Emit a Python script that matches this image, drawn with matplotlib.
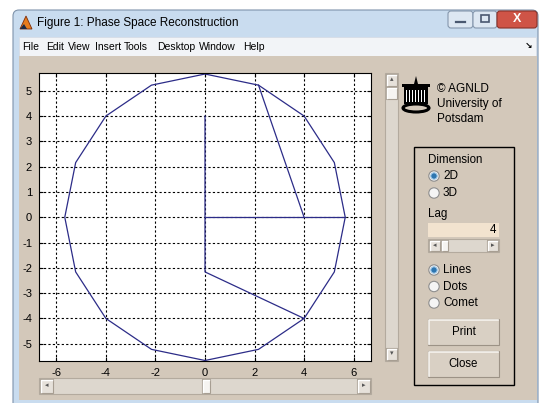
import numpy as np
import matplotlib.pyplot as plt
from matplotlib.patches import Rectangle, Circle, FancyBboxPatch, Ellipse, Polygon

plt.rcParams['font.family'] = ['Liberation Sans', 'DejaVu Sans']
plt.rcParams['axes.unicode_minus'] = False

## trajectory in the reconstructed phase space (x(t), x(t+lag))
path_x = [0, 0, 4, 2.16, 0, -2.16, -4, -5.22, -5.66, -5.22, -4, -2.16, 0, 2.16, 4, 5.22, 5.66, 5.22, 4]
path_y = [4, -2.16, -4, -5.22, -5.66, -5.22, -4, -2.16, 0, 2.16, 4, 5.22, 5.66, 5.22, 4, 2.16, 0, -2.16, -4]
seg_a_x = [0, 5.66]
seg_a_y = [0, 0]
seg_b_x = [4, 2.16]
seg_b_y = [0, 5.22]

x_ticks = [-6, -4, -2, 0, 2, 4, 6]
y_ticks = [-5, -4, -3, -2, -1, 0, 1, 2, 3, 4, 5]

title = 'Figure 1: Phase Space Reconstruction'
menu_items = ['File', 'Edit', 'View', 'Insert', 'Tools', 'Desktop', 'Window', 'Help']
menu_pos = [22, 46, 68, 95, 124, 157, 199, 243]
logo_lines = ['\u00a9 AGNLD', 'University of', 'Potsdam']
dim_options = ['2D', '3D']
style_options = ['Lines', 'Dots', 'Comet']
lag_value = '4'

FACE = '#d3c8ba'
FRAME = '#c9dcef'
LINE = '#2c2c88'

fig = plt.figure(figsize=(5.42, 4.03), dpi=100)
fig.patch.set_facecolor('white')

## window chrome drawn in pixel units
bg = fig.add_axes([0, 0, 1, 1], zorder=0)
bg.set_xlim(0, 542)
bg.set_ylim(403, 0)
bg.axis('off')


def box(x0, y0, x1, y1, fc, ec='none', lw=0.8, z=1):
    bg.add_patch(Rectangle((x0, y0), x1 - x0, y1 - y0, fc=fc, ec=ec, lw=lw, zorder=z))


def raised(x0, y0, x1, y1, fc='#e6e1da'):
    box(x0, y0, x1, y1, fc, ec='#a79e92', lw=0.8, z=3)
    bg.plot([x0 + 1, x0 + 1, x1 - 1], [y1 - 1, y0 + 1, y0 + 1], color='white', lw=1, zorder=4)


def radio(cx, cy, on):
    bg.add_patch(Circle((cx, cy), 5.2, fc='#f4f4f4', ec='#8e8e8e', lw=0.8, zorder=3))
    if on:
        bg.add_patch(Circle((cx, cy), 3.2, fc='#2e76b0', ec='#9cc6e6', lw=0.8, zorder=4))


# outer frame + title bar
bg.add_patch(FancyBboxPatch((13, 10), 525, 400, boxstyle='round,pad=0,rounding_size=6',
                            fc=FRAME, ec='#7f93ab', lw=0.8, zorder=1))
bg.text(37, 23, title, fontsize=8.5, va='center', ha='left', zorder=5)
bg.add_patch(Polygon([[20, 29], [26, 16], [32, 29]], closed=True, fc='#e87b1c', ec='#7a2c0c', lw=0.6, zorder=5))
bg.add_patch(Polygon([[20, 29], [24, 24], [27, 29]], closed=True, fc='#1b2a48', zorder=6))

# caption buttons
bg.add_patch(FancyBboxPatch((448, 11), 25, 17, boxstyle='round,pad=0,rounding_size=3',
                            fc='#dde7f2', ec='#8597ad', lw=0.8, zorder=5))
bg.add_patch(FancyBboxPatch((473, 11), 24, 17, boxstyle='round,pad=0,rounding_size=3',
                            fc='#dde7f2', ec='#8597ad', lw=0.8, zorder=5))
bg.add_patch(FancyBboxPatch((497, 11), 40, 17, boxstyle='round,pad=0,rounding_size=3',
                            fc='#cf5447', ec='#8a3229', lw=0.8, zorder=5))
bg.plot([456, 465], [22, 22], color='#4a5870', lw=1.6, zorder=6)
box(481, 15, 489, 22, 'none', ec='#4a5870', lw=1.2, z=6)
bg.text(517, 19.5, 'X', fontsize=9, fontweight='bold', color='white', ha='center', va='center', zorder=6)

# menu bar
box(19, 37, 536, 56, '#f2f4f7', ec='#d7dde6', lw=0.6, z=2)
for name, xp in zip(menu_items, menu_pos):
    bg.text(xp, 46.5, name, fontsize=7.5, va='center', ha='left', zorder=5)
bg.text(528, 46.5, '\u2198', fontsize=6.5, fontweight='bold', va='center', ha='center', zorder=5)

# grey-beige figure area
box(19, 56, 537, 400, FACE, z=2)

# horizontal slider under the axes
box(39, 378, 371, 394, '#ddd7ce', ec='#b3aa9e', z=3)
raised(40, 379, 53, 393)
bg.text(46.5, 386, '\u25c2', fontsize=5, color='#555555', ha='center', va='center', zorder=5)
raised(202, 379, 210, 393, fc='#f6f4f1')
raised(357, 379, 370, 393)
bg.text(363.5, 386, '\u25b8', fontsize=5, color='#555555', ha='center', va='center', zorder=5)

# vertical slider next to the axes
box(385, 73, 398, 361, '#ddd7ce', ec='#b3aa9e', z=3)
raised(386, 74, 397, 86)
bg.text(391.5, 80, '\u25b4', fontsize=5, color='#555555', ha='center', va='center', zorder=5)
raised(386, 87, 397, 99, fc='#f6f4f1')
raised(386, 348, 397, 360)
bg.text(391.5, 354, '\u25be', fontsize=5, color='#555555', ha='center', va='center', zorder=5)

# university logo
bg.add_patch(Polygon([[413, 88], [416, 76], [419, 88]], closed=True, fc='black', zorder=4))
box(404, 86, 428, 104, 'black', z=4)
for sx in np.arange(406, 427, 3):
    box(sx, 90, sx + 1.2, 102, 'white', z=5)
box(402, 84, 430, 87, 'black', z=4)
bg.add_patch(Ellipse((416, 108), 26, 8, fc='none', ec='black', lw=2.2, zorder=4))
for i, line in enumerate(logo_lines):
    bg.text(437, 89 + 15 * i, line, fontsize=8.5, va='center', ha='left', zorder=5)

# control panel
box(414, 147, 514, 385, 'none', ec='black', lw=1.0, z=4)
bg.text(428, 160, 'Dimension', fontsize=8.3, va='center', ha='left', zorder=5)
for i, opt in enumerate(dim_options):
    yy = 176 + 17 * i
    radio(434, yy, i == 0)
    bg.text(443, yy, opt, fontsize=8.5, va='center', ha='left', zorder=5)
bg.text(428, 214, 'Lag', fontsize=8.3, va='center', ha='left', zorder=5)
box(428, 223, 499, 237, '#f2e3cf', z=3)
bg.text(496, 230, lag_value, fontsize=8.3, va='center', ha='right', zorder=5)
box(428, 239, 499, 252, '#ddd7ce', ec='#b3aa9e', z=3)
raised(429, 240, 440, 251)
bg.text(434.5, 245.5, '\u25c2', fontsize=5, color='#555555', ha='center', va='center', zorder=5)
raised(441, 240, 448, 251, fc='#f6f4f1')
raised(487, 240, 498, 251)
bg.text(492.5, 245.5, '\u25b8', fontsize=5, color='#555555', ha='center', va='center', zorder=5)
for i, opt in enumerate(style_options):
    yy = 270 + 16.5 * i
    radio(434, yy, i == 0)
    bg.text(443, yy, opt, fontsize=8.5, va='center', ha='left', zorder=5)
for yy, label in [(319, 'Print'), (351, 'Close')]:
    box(428, yy, 499, yy + 26, '#d9d0c4', ec='#9c9286', lw=0.8, z=3)
    bg.plot([429, 429, 498], [yy + 25, yy + 1, yy + 1], color='#f7f4ef', lw=1.2, zorder=4)
    bg.text(463.5, yy + 13, label, fontsize=8.3, va='center', ha='center', zorder=5)

## phase space axes
ax = fig.add_axes([39 / 542, 1 - 361 / 403, 332 / 542, 288 / 403], zorder=2)
ax.set_facecolor('white')
ax.plot(path_x, path_y, color=LINE, lw=0.9)
ax.plot(seg_a_x, seg_a_y, color=LINE, lw=0.9)
ax.plot(seg_b_x, seg_b_y, color=LINE, lw=0.9)
ax.set_xlim(-6.7, 6.7)
ax.set_ylim(-5.68, 5.7)
ax.set_xticks(x_ticks)
ax.set_yticks(y_ticks)
ax.grid(True, color='black', linestyle=(0, (2, 2)), lw=0.8)
ax.tick_params(direction='in', length=3, labelsize=8, pad=5, top=True, right=True, colors='black')
for sp in ax.spines.values():
    sp.set_linewidth(0.8)

fig.savefig('out.png', dpi=100)
